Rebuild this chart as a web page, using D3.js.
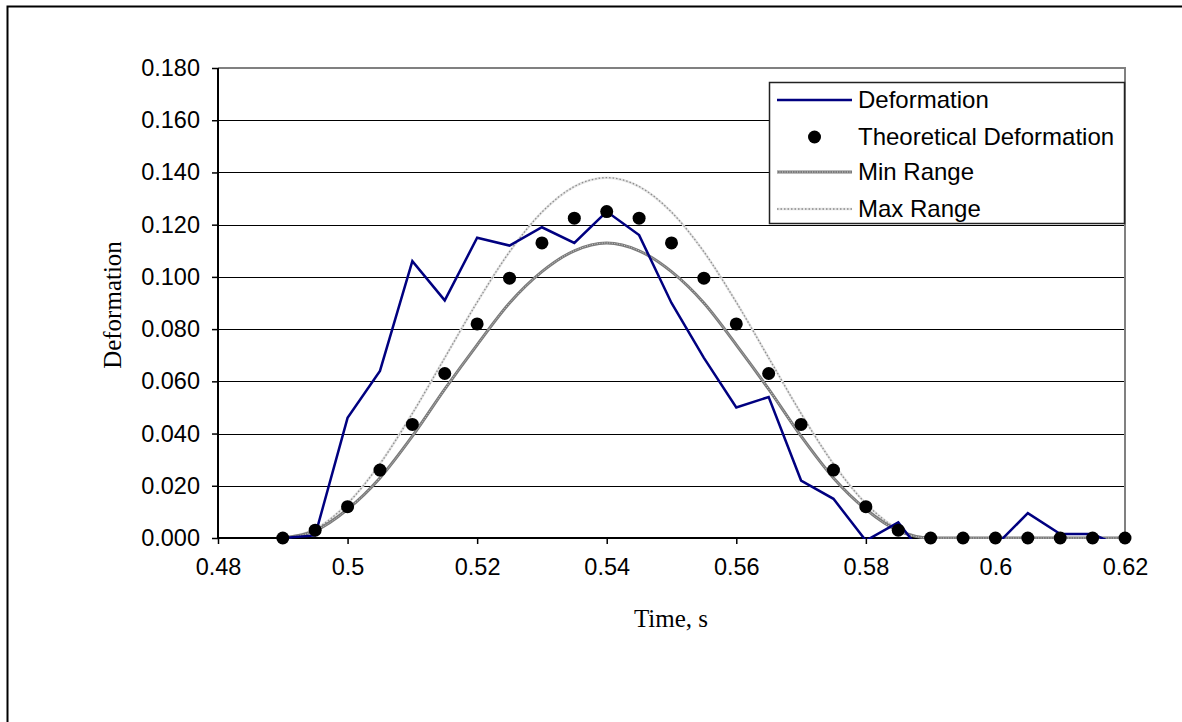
<!DOCTYPE html>
<html>
<head>
<meta charset="utf-8">
<script src="https://cdn.jsdelivr.net/npm/d3@7"></script>
<style>
  body { margin: 0; background: #fff; }
  svg { display: block; }
  .tick-label { font-family: "Liberation Sans", Arial, sans-serif; font-size: 23.5px; fill: #000; }
  .title { font-family: "Liberation Serif", "Times New Roman", serif; font-size: 25px; fill: #000; }
  .legend-text { font-family: "Liberation Sans", Arial, sans-serif; font-size: 24px; fill: #000; }
</style>
</head>
<body>
<svg id="chart"></svg>
<script>
const width = 1182;
const height = 722;

// Data (time step 0.005 s)
const times = [0.49, 0.495, 0.5, 0.505, 0.51, 0.515, 0.52, 0.525, 0.53, 0.535, 0.54, 0.545, 0.55,
    0.555, 0.56, 0.565, 0.57, 0.575, 0.58, 0.585, 0.59, 0.595, 0.6, 0.605, 0.61, 0.615, 0.62];
const deformation = [0, 0.001, 0.046, 0.064, 0.106, 0.091, 0.115, 0.112, 0.119, 0.113, 0.125, 0.116, 0.090,
    0.069, 0.050, 0.054, 0.022, 0.015, -0.001, 0.006, -0.010, -0.001, -0.003, 0.0095, 0.0015, 0.0015, -0.004];
const theoretical = [0, 0.003, 0.012, 0.026, 0.0435, 0.063, 0.082, 0.0995, 0.113, 0.1225, 0.125, 0.1225, 0.113,
    0.0995, 0.082, 0.063, 0.0435, 0.026, 0.012, 0.003, 0, 0, 0, 0, 0, 0, 0];
const minRange = [0, 0.0028, 0.011, 0.023, 0.039, 0.057, 0.074, 0.090, 0.102, 0.110, 0.113, 0.110, 0.102,
    0.090, 0.074, 0.057, 0.039, 0.023, 0.011, 0.0028, 0, 0, 0, 0, 0, 0, 0];
const maxRange = [0, 0.0034, 0.0132, 0.0284, 0.0477, 0.069, 0.0903, 0.1096, 0.1248, 0.1346, 0.138, 0.1346, 0.1248,
    0.1096, 0.0903, 0.069, 0.0477, 0.0284, 0.0132, 0.0034, 0, 0, 0, 0, 0, 0, 0];

const xTicks = [0.48, 0.5, 0.52, 0.54, 0.56, 0.58, 0.6, 0.62];
const yTicks = [0, 0.02, 0.04, 0.06, 0.08, 0.1, 0.12, 0.14, 0.16, 0.18];
const legendItems = ['Deformation', 'Theoretical Deformation', 'Min Range', 'Max Range'];

// Plot area
const plot = { left: 218, top: 68, right: 1125, bottom: 538 };

const svg = d3.select('#chart')
    .attr('width', width)
    .attr('height', height);

const x = d3.scaleLinear().domain([0.48, 0.62]).range([plot.left, plot.right]);
const y = d3.scaleLinear().domain([0, 0.18]).range([plot.bottom, plot.top]);

// Outer frame (left and top edges only are visible)
svg.append('path')
    .attr('d', `M7.5,${height} L7.5,6.5 L${width},6.5`)
    .attr('fill', 'none')
    .attr('stroke', '#000')
    .attr('stroke-width', 2);

// Grid lines
svg.append('g')
    .selectAll('line')
    .data(yTicks.filter(d => d > 0 && d < 0.18))
    .join('line')
    .attr('x1', plot.left)
    .attr('x2', plot.right)
    .attr('y1', d => Math.round(y(d)) + 0.5)
    .attr('y2', d => Math.round(y(d)) + 0.5)
    .attr('stroke', '#000')
    .attr('stroke-width', 1);

// Top and right plot borders (gray)
svg.append('path')
    .attr('d', `M${plot.left},${plot.top} L${plot.right},${plot.top} L${plot.right},${plot.bottom}`)
    .attr('fill', 'none')
    .attr('stroke', '#808080')
    .attr('stroke-width', 2);

// Y axis
const yAxis = d3.axisLeft(y)
    .tickValues(yTicks)
    .tickSize(6)
    .tickPadding(12)
    .tickFormat(d3.format('.3f'));
const yG = svg.append('g')
    .attr('transform', `translate(${plot.left},0)`)
    .call(yAxis);
yG.select('.domain').attr('stroke', '#000').attr('stroke-width', 2).attr('d', `M0,${plot.top}V${plot.bottom}`);
yG.selectAll('.tick line').attr('stroke', '#000').attr('stroke-width', 1.5);
yG.selectAll('.tick text').attr('class', 'tick-label').attr('font-family', null).attr('font-size', null);

// X axis
const xAxis = d3.axisBottom(x)
    .tickValues(xTicks)
    .tickSize(6)
    .tickPadding(14)
    .tickFormat(d => d3.format('')(+d.toFixed(2)));
const xG = svg.append('g')
    .attr('transform', `translate(0,${plot.bottom})`)
    .call(xAxis);
xG.select('.domain').attr('stroke', '#000').attr('stroke-width', 2).attr('d', `M${plot.left},0H${plot.right}`);
xG.selectAll('.tick line').attr('stroke', '#000').attr('stroke-width', 1.5);
xG.selectAll('.tick text').attr('class', 'tick-label').attr('font-family', null).attr('font-size', null);

// Clip series to the plot area
svg.append('clipPath').attr('id', 'plotClip')
    .append('rect')
    .attr('x', plot.left)
    .attr('y', plot.top)
    .attr('width', plot.right - plot.left)
    .attr('height', plot.bottom - plot.top + 1);

const series = svg.append('g').attr('clip-path', 'url(#plotClip)');

const smoothLine = vals => d3.line()
    .x((d, i) => x(times[i]))
    .y(d => y(d))
    .curve(d3.curveMonotoneX)(vals);

// Max range: light dotted line
series.append('path')
    .attr('d', smoothLine(maxRange))
    .attr('fill', 'none')
    .attr('stroke', '#e4e4e4')
    .attr('stroke-width', 2.5);
series.append('path')
    .attr('d', smoothLine(maxRange))
    .attr('fill', 'none')
    .attr('stroke', '#8c8c8c')
    .attr('stroke-width', 1.3)
    .attr('stroke-dasharray', '1.5,2');

// Min range: gray stippled thick line
series.append('path')
    .attr('d', smoothLine(minRange))
    .attr('fill', 'none')
    .attr('stroke', '#7a7a7a')
    .attr('stroke-width', 3);
series.append('path')
    .attr('d', smoothLine(minRange))
    .attr('fill', 'none')
    .attr('stroke', '#d0d0d0')
    .attr('stroke-width', 1)
    .attr('stroke-dasharray', '1,1.5');

// Measured deformation
series.append('path')
    .attr('d', d3.line().x((d, i) => x(times[i])).y(d => y(d))(deformation))
    .attr('fill', 'none')
    .attr('stroke', '#000080')
    .attr('stroke-width', 2.5)
    .attr('stroke-linejoin', 'miter');

// Theoretical points
svg.append('g')
    .selectAll('circle')
    .data(theoretical)
    .join('circle')
    .attr('cx', (d, i) => x(times[i]))
    .attr('cy', d => y(d))
    .attr('r', 6.5)
    .attr('fill', '#000');

// Axis titles
svg.append('text')
    .attr('class', 'title')
    .attr('x', 671)
    .attr('y', 627)
    .attr('text-anchor', 'middle')
    .text('Time, s');

svg.append('text')
    .attr('class', 'title')
    .attr('transform', 'translate(121,305) rotate(-90)')
    .attr('text-anchor', 'middle')
    .text('Deformation');

// Legend
const legend = svg.append('g');
legend.append('rect')
    .attr('x', 769.5)
    .attr('y', 82.5)
    .attr('width', 355)
    .attr('height', 141)
    .attr('fill', '#fff')
    .attr('stroke', '#222')
    .attr('stroke-width', 1.5);

const rowY = [100, 137, 172, 209];
const sx1 = 777, sx2 = 852;

legend.append('line')
    .attr('x1', sx1).attr('x2', sx2).attr('y1', rowY[0]).attr('y2', rowY[0])
    .attr('stroke', '#000080').attr('stroke-width', 2.5);
legend.append('circle')
    .attr('cx', (sx1 + sx2) / 2).attr('cy', rowY[1]).attr('r', 6.5).attr('fill', '#000');
legend.append('line')
    .attr('x1', sx1).attr('x2', sx2).attr('y1', rowY[2]).attr('y2', rowY[2])
    .attr('stroke', '#7a7a7a').attr('stroke-width', 3);
legend.append('line')
    .attr('x1', sx1).attr('x2', sx2).attr('y1', rowY[2]).attr('y2', rowY[2])
    .attr('stroke', '#d0d0d0').attr('stroke-width', 1).attr('stroke-dasharray', '1,1.5');
legend.append('line')
    .attr('x1', sx1).attr('x2', sx2).attr('y1', rowY[3]).attr('y2', rowY[3])
    .attr('stroke', '#e4e4e4').attr('stroke-width', 2.5);
legend.append('line')
    .attr('x1', sx1).attr('x2', sx2).attr('y1', rowY[3]).attr('y2', rowY[3])
    .attr('stroke', '#8c8c8c').attr('stroke-width', 1.3).attr('stroke-dasharray', '1.5,2');

legend.selectAll('text')
    .data(legendItems)
    .join('text')
    .attr('class', 'legend-text')
    .attr('x', 858)
    .attr('y', (d, i) => rowY[i])
    .attr('dy', '0.35em')
    .text(d => d);
</script>
</body>
</html>
